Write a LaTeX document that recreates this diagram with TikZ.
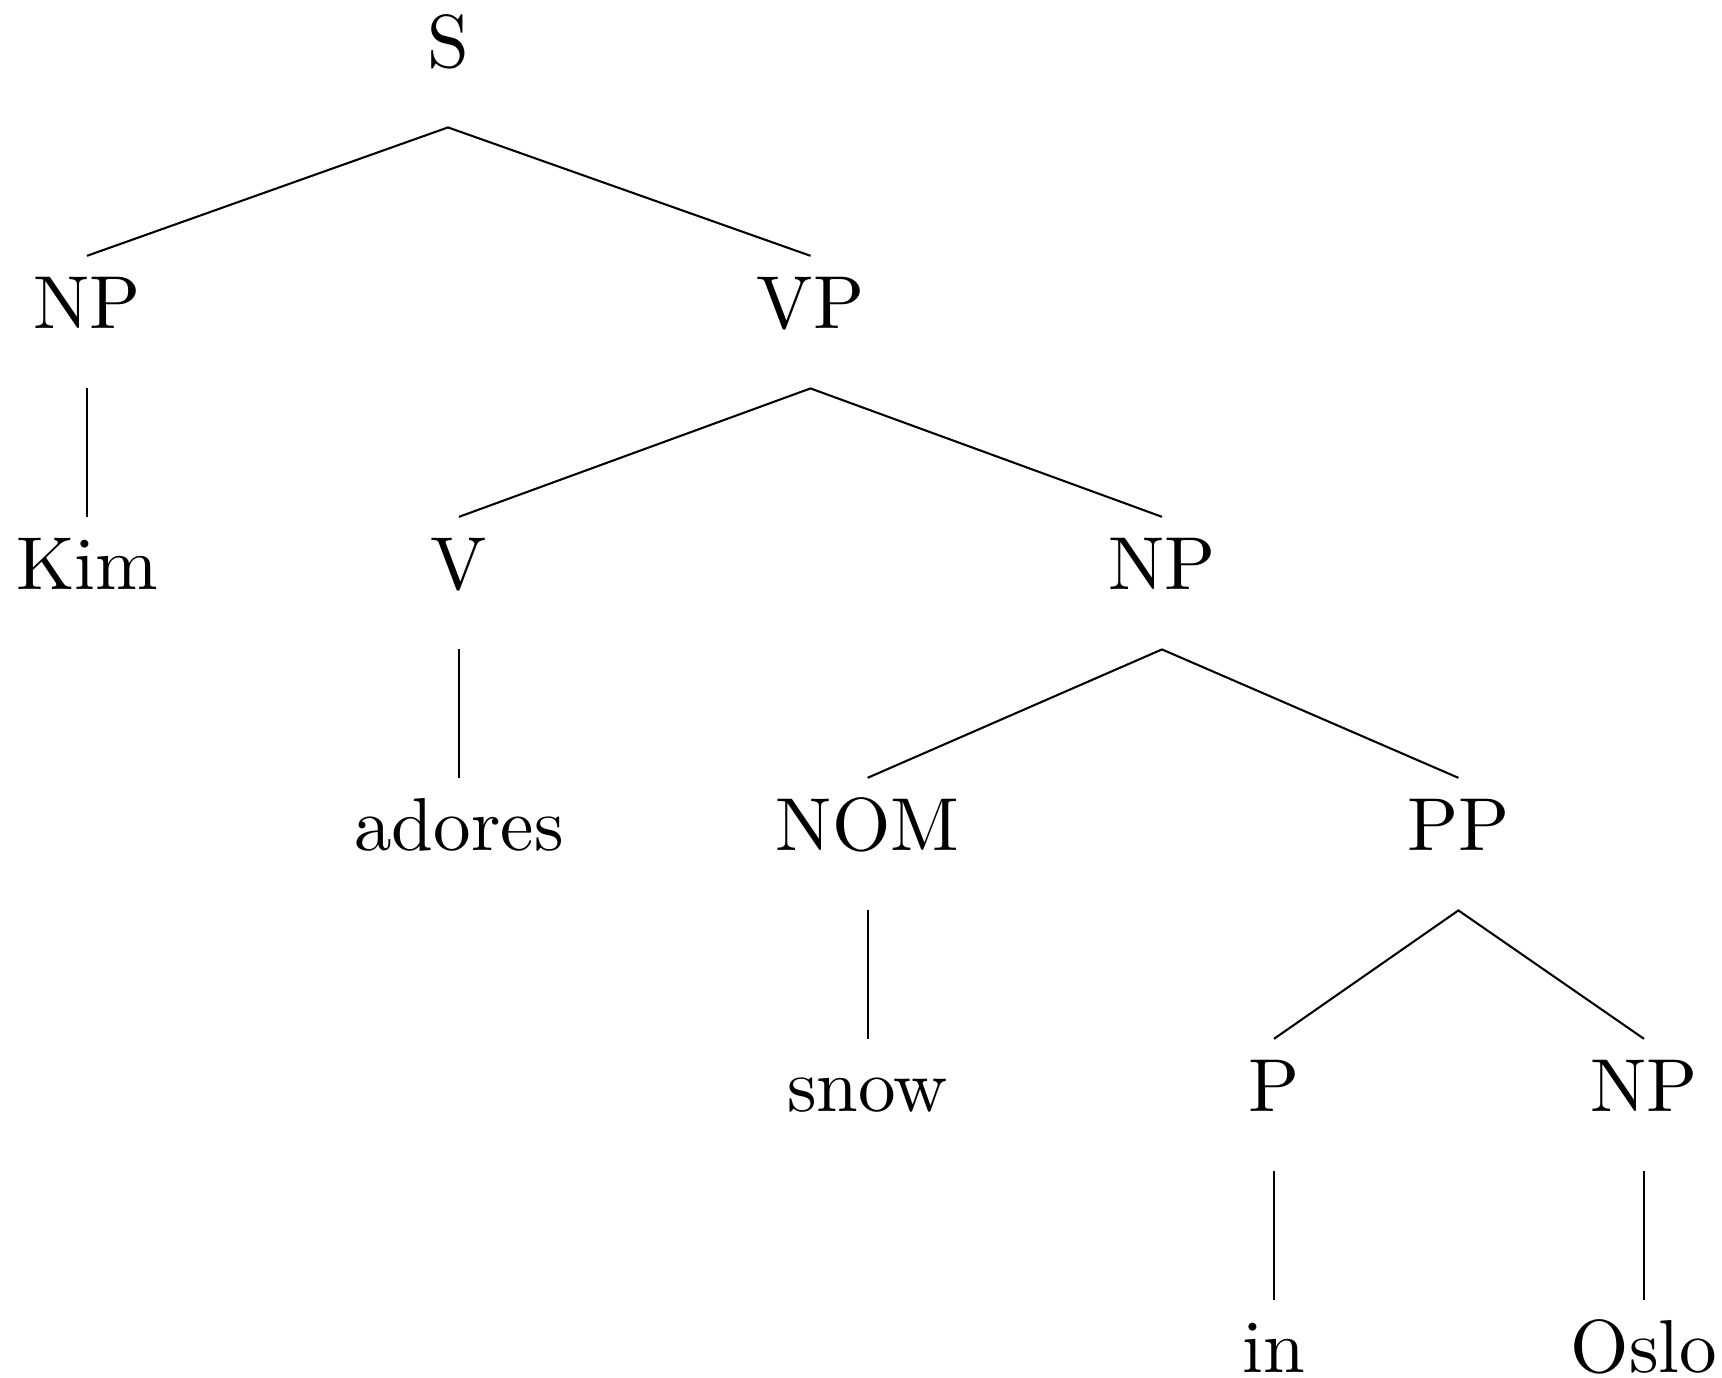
\documentclass[tikz,border=0pt]{standalone}
\begin{document}
\begin{tikzpicture}[x=0.14518pt,y=-0.14518pt,
  lab/.style={inner sep=0pt, text height=10.35pt, text depth=8.5pt, anchor=base,
    font=\fontsize{10.9pt}{13.6pt}\selectfont},
  edge/.style={line width=0.3pt}]
\useasboundingbox (0,0) rectangle (1722,1378);
\node[lab] (S) at (448,67.5) {S};
\node[lab] (NPa) at (87,328.5) {NP};
\node[lab] (VP) at (810.5,328.5) {VP};
\node[lab] (Kim) at (87,589.5) {Kim};
\node[lab] (V) at (459,589.5) {V};
\node[lab] (NPb) at (1162,589.5) {NP};
\node[lab] (adores) at (459,850.5) {adores};
\node[lab] (NOM) at (867.6,850.5) {NOM};
\node[lab] (PP) at (1458.4,850.5) {PP};
\node[lab] (snow) at (867.6,1111.5) {snow};
\node[lab] (P) at (1274,1111.5) {P};
\node[lab] (NPc) at (1644,1111.5) {NP};
\node[lab] (in) at (1274,1372.5) {in};
\node[lab] (Oslo) at (1644,1372.5) {Oslo};
\draw[edge] (NPa.north) -- (S.south) -- (VP.north);
\draw[edge] (NPa.south) -- (Kim.north);
\draw[edge] (V.north) -- (VP.south) -- (NPb.north);
\draw[edge] (V.south) -- (adores.north);
\draw[edge] (NOM.north) -- (NPb.south) -- (PP.north);
\draw[edge] (NOM.south) -- (snow.north);
\draw[edge] (P.north) -- (PP.south) -- (NPc.north);
\draw[edge] (P.south) -- (in.north);
\draw[edge] (NPc.south) -- (Oslo.north);
\end{tikzpicture}
\end{document}
